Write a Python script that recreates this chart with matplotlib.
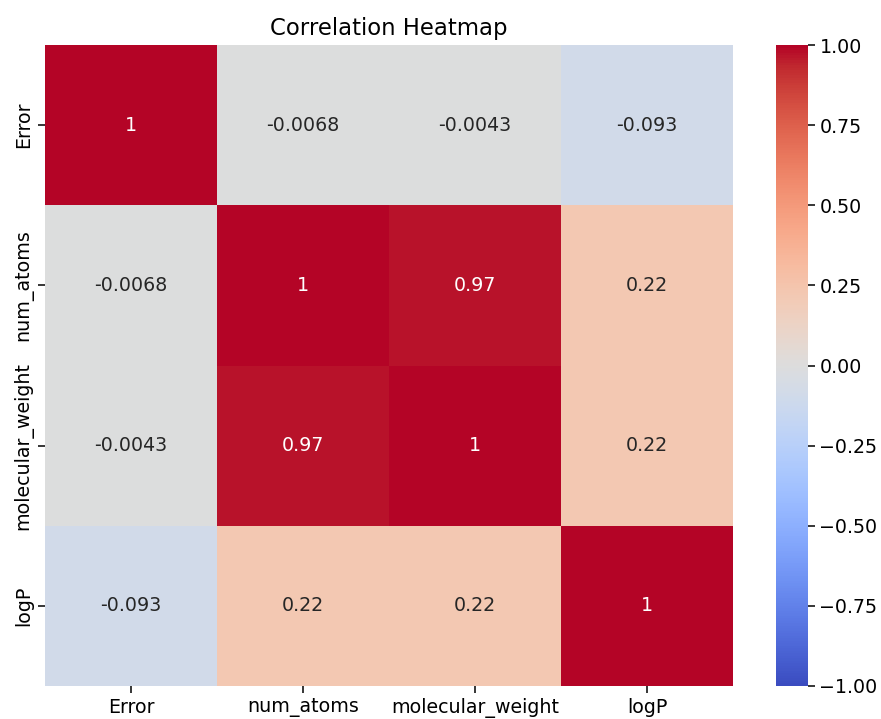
import numpy as np
import matplotlib
matplotlib.use("Agg")
import matplotlib.pyplot as plt
import seaborn as sns

# Features and their pairwise correlations
features = ["Error", "num_atoms", "molecular_weight", "logP"]
corr_error = [1.0, -0.0068, -0.0043, -0.093]
corr_num_atoms = [-0.0068, 1.0, 0.97, 0.22]
corr_molecular_weight = [-0.0043, 0.97, 1.0, 0.22]
corr_logp = [-0.093, 0.22, 0.22, 1.0]

corr = np.array([corr_error, corr_num_atoms, corr_molecular_weight, corr_logp])

fig = plt.figure(figsize=(8.81, 7.19), dpi=100)
ax = fig.add_axes([0.0511, 0.0459, 0.781, 0.8915])
cax = fig.add_axes([0.8808, 0.0459, 0.0363, 0.8915])

sns.heatmap(corr, annot=True, cmap="coolwarm", vmin=-1, vmax=1,
            xticklabels=features, yticklabels=features,
            ax=ax, cbar_ax=cax, annot_kws={"fontsize": 13.7})

ax.set_title("Correlation Heatmap", fontsize=16.4, pad=7)
ax.tick_params(labelsize=13.7, length=4.8, width=1.1)
cax.tick_params(labelsize=13.7, length=4.8, width=1.1)

fig.savefig("out.png", dpi=100)
